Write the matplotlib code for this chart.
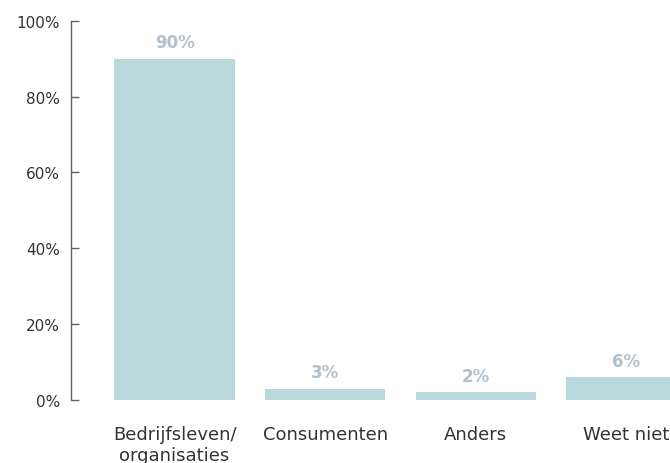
import matplotlib
matplotlib.use("Agg")
import matplotlib.pyplot as plt

categories = ["Bedrijfsleven/\norganisaties", "Consumenten", "Anders", "Weet niet"]
values = [90, 3, 2, 6]
yticks = [0, 20, 40, 60, 80, 100]

plt.rcParams['font.family'] = ['DejaVu Sans']

fig = plt.figure(figsize=(6.7, 4.64), dpi=100)
ax = fig.add_axes([0.106, 0.136, 0.894, 0.817])

x = list(range(len(categories)))
ax.bar(x, values, width=0.8, color='#b8d8db', zorder=2)
for xi, v in zip(x, values):
    ax.text(xi, v + 2.0, f"{v}%", ha='center', va='bottom', fontsize=12,
            fontweight='bold', color='#b2c0ca')

ax.set_xlim(-0.688, 3.29)
ax.set_ylim(0, 100)
ax.set_yticks(yticks)
ax.set_yticklabels([f"{t}%" for t in yticks], fontsize=11, color='#333333')
ax.set_xticks(x)
ax.set_xticklabels(categories, fontsize=13, color='#333333', linespacing=1.2)
ax.tick_params(axis='x', length=0, pad=18)
ax.tick_params(axis='y', direction='in', length=6, width=1, color='#5a6570', pad=8)

for s in ['top', 'right', 'bottom']:
    ax.spines[s].set_visible(False)
ax.spines['left'].set_color('#5a6570')
ax.spines['left'].set_linewidth(1)

fig.savefig("out.png", dpi=100)
